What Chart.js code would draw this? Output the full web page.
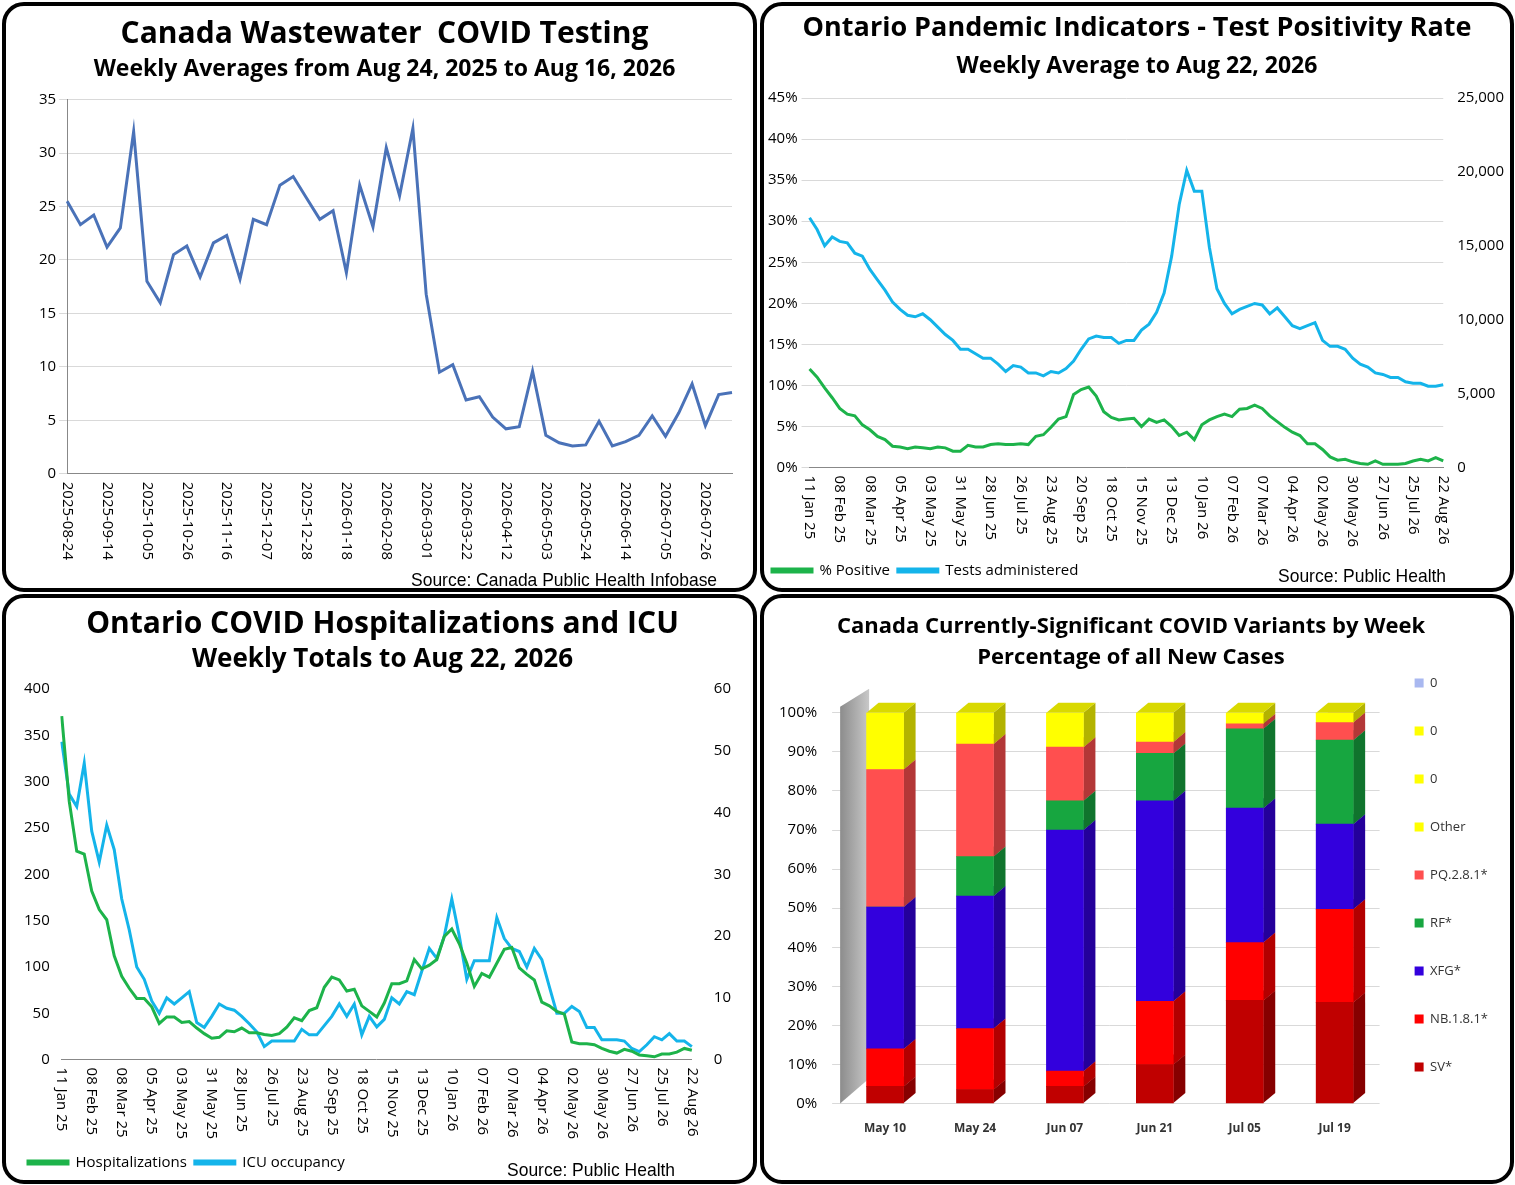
<!DOCTYPE html>
<html><head><meta charset="utf-8">
<script src="https://cdn.jsdelivr.net/npm/chart.js@4.4.1/dist/chart.umd.min.js"></script>
<style>
body{margin:0;width:1515px;height:1185px;background:#fff;position:relative;font-family:"Open Sans",sans-serif;overflow:hidden}
.p{position:absolute;border:4px solid #000;border-radius:22px;box-sizing:border-box;background:#fff;overflow:hidden}
.p canvas{position:absolute;left:0;top:0}
.src{position:absolute;font-family:"Liberation Sans",sans-serif;font-size:19px;color:#000;transform:scaleX(0.92);transform-origin:left top;white-space:nowrap}
</style></head><body>
<div class="p" style="left:2px;top:2px;width:755px;height:590px"><canvas id="c1"></canvas><div class="src" style="left:405px;top:563px">Source: Canada Public Health Infobase</div></div>
<div class="p" style="left:760px;top:2px;width:754px;height:590px"><canvas id="c2"></canvas><div class="src" style="left:514px;top:559px">Source: Public Health</div></div>
<div class="p" style="left:2px;top:594px;width:755px;height:590px"><canvas id="c3"></canvas><div class="src" style="left:501px;top:561px">Source: Public Health</div></div>
<div class="p" style="left:760px;top:594px;width:754px;height:590px"><canvas id="c4"></canvas></div>
<script>
// ---------- DATA ----------
const wwStart = '2025-08-24';
const wastewater = [25.5,23.3,24.2,21.2,23,32,18,16,20.5,21.3,18.4,21.6,22.3,18.2,23.8,23.3,27,27.8,25.8,23.8,24.6,18.8,27,23.1,30.5,26,32.3,16.8,9.5,10.2,6.9,7.2,5.3,4.2,4.4,9.6,3.6,2.9,2.6,2.7,4.9,2.6,3.0,3.6,5.4,3.5,5.7,8.4,4.5,7.4,7.6];
const onStart = '2025-01-11';
const pctPositive = [12,11,9.7,8.5,7.2,6.5,6.3,5.2,4.6,3.8,3.4,2.6,2.5,2.3,2.5,2.4,2.3,2.5,2.4,2.0,2.0,2.7,2.5,2.5,2.8,2.9,2.8,2.8,2.9,2.8,3.8,4.0,4.9,5.9,6.2,8.9,9.5,9.8,8.7,6.8,6.1,5.8,5.9,6.0,5.0,5.9,5.5,5.8,5.0,3.9,4.3,3.4,5.2,5.8,6.2,6.5,6.2,7.1,7.2,7.6,7.2,6.3,5.6,4.9,4.3,3.9,2.9,2.9,2.2,1.3,0.9,1.0,0.7,0.5,0.4,0.8,0.4,0.4,0.4,0.5,0.8,1.0,0.8,1.2,0.8];
const testsAdmin = [16900,16100,15000,15600,15300,15200,14500,14300,13400,12700,12000,11200,10700,10300,10200,10400,10000,9500,9000,8600,8000,8000,7700,7400,7400,7000,6500,6900,6800,6400,6400,6200,6500,6400,6700,7200,8000,8700,8900,8800,8800,8400,8600,8600,9300,9700,10500,11800,14300,17800,20100,18700,18700,14900,12100,11100,10400,10700,10900,11100,11000,10400,10800,10200,9600,9400,9600,9800,8600,8200,8200,8000,7400,7000,6800,6400,6300,6100,6100,5800,5700,5700,5500,5500,5600];
const hosp = [371,279,225,222,182,162,151,112,90,77,66,66,57,39,46,46,40,41,34,28,23,24,31,30,34,29,29,27,26,28,35,45,42,53,56,78,89,86,74,76,58,52,46,61,82,82,85,108,98,102,108,133,141,125,104,79,93,89,104,119,121,99,92,86,62,58,52,49,19,17,17,16,12,9,7,11,9,5,4,3,6,6,8,12,10];
const icu = [51.5,43,41,48,37,32,38,34,26,21,15,13,9.5,7.5,10,9,10,11,6,5.2,7,9,8.3,8,7,5.8,4.5,2.1,3,3,3,3,4.9,4,4,5.5,7,9,7,9,4,7,5.3,6.5,10,9,11,10.5,14.3,18,16.4,20,26,20,13,16,16,16,23,19.6,18,17.5,15,18,16.2,11.8,7.5,7.5,8.6,7.8,5.2,5.2,3.2,3.2,3.2,3,1.8,1.3,2.4,3.7,3.2,4.2,3,3,2.1];
const variantWeeks = ['May 10','May 24','Jun 07','Jun 21','Jul 05','Jul 19'];
const SV   = [4.4,3.6,4.4,10,26.4,25.9];
const NB   = [9.6,15.6,3.9,16.2,14.8,23.8];
const XFG  = [36.3,33.9,61.7,51.3,34.4,21.8];
const RF   = [0,10.1,7.5,12.1,20.3,21.5];
const PQ   = [35.2,28.8,13.7,2.9,1.3,4.5];
const Other= [14.5,8,8.8,7.5,2.8,2.5];
const zeros= [0,0,0,0,0,0];

function weekly(start,n,fmt){const out=[];const d=new Date(start+'T12:00:00Z');const M=['Jan','Feb','Mar','Apr','May','Jun','Jul','Aug','Sep','Oct','Nov','Dec'];
 for(let i=0;i<n;i++){const t=new Date(d.getTime()+i*7*864e5);const dd=String(t.getUTCDate()).padStart(2,'0');
  out.push(fmt==='iso'?t.getUTCFullYear()+'-'+String(t.getUTCMonth()+1).padStart(2,'0')+'-'+dd:dd+' '+M[t.getUTCMonth()]+' '+String(t.getUTCFullYear()).slice(2));}return out;}
const wwLabels = weekly(wwStart,wastewater.length,'iso');
const onLabels = weekly(onStart,pctPositive.length,'dmy');

Chart.defaults.font.family='"Open Sans",sans-serif';
Chart.defaults.color='#000';
Chart.defaults.animation=false;

const cwLabels={id:'cw',afterDraw(ch){const s=ch.scales.x;const c=ch.ctx;c.save();c.fillStyle='#000';c.font=(ch.options.cwFont||15)+'px "Open Sans",sans-serif';c.textBaseline='middle';c.textAlign='left';
 s.ticks.forEach((t,i)=>{if(!t.label)return;const x=s.getPixelForTick(i);c.save();c.translate(x,s.top+8);c.rotate(Math.PI/2);c.fillText(t.label,0,0);c.restore();});c.restore();}};

function sz(id){const e=document.getElementById(id);const p=e.parentElement;e.width=p.clientWidth;e.height=p.clientHeight;e.style.width=p.clientWidth+'px';e.style.height=p.clientHeight+'px';}
['c1','c2','c3','c4'].forEach(sz);
const tf=(s,w)=>({size:s,weight:w||'bold',family:'"Open Sans",sans-serif'});

new Chart('c1',{type:'line',data:{labels:wwLabels,datasets:[{data:wastewater,borderColor:'#4a72b8',borderWidth:3,pointRadius:0,tension:0}]},
 options:{responsive:false,cwFont:15,layout:{padding:{left:30,right:20,bottom:22}},plugins:{legend:{display:false},
  title:{display:true,text:'Canada Wastewater  COVID Testing',font:tf(30),padding:{top:10,bottom:4}},
  subtitle:{display:true,text:'Weekly Averages from Aug 24, 2025 to Aug 16, 2026',font:tf(23),padding:{bottom:16}}},
  scales:{x:{grid:{display:false},border:{color:'#888'},ticks:{color:'transparent',autoSkip:false,minRotation:90,maxRotation:90,font:{size:15},callback:(v,i)=>i%3===0?wwLabels[i]:''}},
   y:{min:0,max:35,ticks:{stepSize:5,font:{size:15}},grid:{color:'#d9d9d9'},border:{color:'#888'}}}},plugins:[cwLabels]});

new Chart('c2',{type:'line',data:{labels:onLabels,datasets:[
 {label:'% Positive',data:pctPositive,borderColor:'#1db34a',backgroundColor:'#1db34a',borderWidth:3,pointRadius:0,yAxisID:'y'},
 {label:'Tests administered',data:testsAdmin,borderColor:'#14b4ea',backgroundColor:'#14b4ea',borderWidth:3,pointRadius:0,yAxisID:'y1'}]},
 options:{responsive:false,cwFont:15,layout:{padding:{left:0,right:0,bottom:0}},plugins:{
  title:{display:true,text:'Ontario Pandemic Indicators - Test Positivity Rate',font:tf(27),padding:{top:6,bottom:8}},
  subtitle:{display:true,text:'Weekly Average to Aug 22, 2026',font:tf(23),padding:{bottom:18}},
  legend:{position:'bottom',align:'start',labels:{boxWidth:40,boxHeight:3,font:{size:15},padding:8}}},
  scales:{x:{grid:{display:false},border:{color:'#888'},ticks:{color:'transparent',autoSkip:false,minRotation:90,maxRotation:90,font:{size:15},padding:4,callback:(v,i)=>i%4===0?onLabels[i]:''}},
   y:{min:0,max:45,ticks:{stepSize:5,font:{size:15},padding:4,callback:v=>v+'%'},grid:{color:'#d9d9d9'},border:{display:false}},
   y1:{position:'right',min:0,max:25000,ticks:{stepSize:5000,font:{size:15},padding:6,callback:v=>v.toLocaleString('en-US')},grid:{display:false},border:{display:false}}}},plugins:[cwLabels]});

new Chart('c3',{type:'line',data:{labels:onLabels,datasets:[
 {label:'Hospitalizations',data:hosp,borderColor:'#1db34a',backgroundColor:'#1db34a',borderWidth:3,pointRadius:0,yAxisID:'y'},
 {label:'ICU occupancy',data:icu,borderColor:'#14b4ea',backgroundColor:'#14b4ea',borderWidth:3,pointRadius:0,yAxisID:'y1'}]},
 options:{responsive:false,cwFont:15,layout:{padding:{left:14,right:8,bottom:0}},plugins:{
  title:{display:true,text:'Ontario COVID Hospitalizations and ICU',font:tf(30),padding:{top:8,bottom:2}},
  subtitle:{display:true,text:'Weekly Totals to Aug 22, 2026',font:tf(26),padding:{bottom:14}},
  legend:{position:'bottom',align:'start',labels:{boxWidth:40,boxHeight:3,font:{size:15},padding:8}}},
  scales:{x:{grid:{display:false},border:{color:'#888'},ticks:{color:'transparent',autoSkip:false,minRotation:90,maxRotation:90,font:{size:15},padding:4,callback:(v,i)=>i%4===0?onLabels[i]:''}},
   y:{min:0,max:400,ticks:{stepSize:50,font:{size:15},padding:4},grid:{display:false},border:{display:false}},
   y1:{position:'right',min:0,max:60,ticks:{stepSize:10,font:{size:15},padding:14},grid:{display:false},border:{display:false}}}},plugins:[cwLabels]});

function shade(hex,f){const n=parseInt(hex.slice(1),16);let r=n>>16,g=(n>>8)&255,b=n&255;return `rgb(${Math.round(r*f)},${Math.round(g*f)},${Math.round(b*f)})`;}
const threeD={id:'threeD',beforeDatasetsDraw(ch){const c=ch.ctx,a=ch.chartArea,dx=12,dy=10;
 c.save();const wl=29;const g=c.createLinearGradient(a.left,0,a.left+wl,0);g.addColorStop(0,'#8c8c8c');g.addColorStop(1,'#c8c8c8');
 c.fillStyle=g;c.beginPath();c.moveTo(a.left,a.bottom);c.lineTo(a.left,a.top-6);c.lineTo(a.left+wl,a.top-24);c.lineTo(a.left+wl,a.bottom-25);c.closePath();c.fill();
 ch.data.datasets.forEach((ds,di)=>{const m=ch.getDatasetMeta(di);m.data.forEach((b,i)=>{if(!ds.data[i])return;const h=b.width/2,col=ds.backgroundColor;
  c.fillStyle=shade(col,0.7);c.beginPath();c.moveTo(b.x+h,b.y);c.lineTo(b.x+h+dx,b.y-dy);c.lineTo(b.x+h+dx,b.base-dy);c.lineTo(b.x+h,b.base);c.closePath();c.fill();
  c.fillStyle=shade(col,0.85);c.beginPath();c.moveTo(b.x-h,b.y);c.lineTo(b.x-h+dx,b.y-dy);c.lineTo(b.x+h+dx,b.y-dy);c.lineTo(b.x+h,b.y);c.closePath();c.fill();});});
 c.restore();}};
const vd=(l,d,c)=>({label:l,data:d,backgroundColor:c,borderWidth:0,barThickness:37});
new Chart('c4',{type:'bar',data:{labels:variantWeeks,datasets:[vd('SV*',SV,'#c00000'),vd('NB.1.8.1*',NB,'#ff0000'),vd('XFG*',XFG,'#3300dd'),vd('RF*',RF,'#17a640'),vd('PQ.2.8.1*',PQ,'#ff4f4f'),vd('Other',Other,'#ffff00'),vd('0',zeros,'#ffff00'),vd('0',zeros,'#ffff00'),vd('0',zeros,'#a9b8f0')]},
 options:{responsive:false,layout:{padding:{left:0,right:12,bottom:34,top:6}},plugins:{
  title:{display:true,text:'Canada Currently-Significant COVID Variants by Week',font:tf(22),padding:{top:10,bottom:4}},
  subtitle:{display:true,text:'Percentage of all New Cases',font:tf(22),padding:{bottom:42}},
  legend:{position:'right',reverse:true,labels:{boxWidth:9,boxHeight:9,font:{size:13},padding:35,color:'#333'}}},
  scales:{x:{stacked:true,grid:{display:false},border:{display:false},ticks:{font:{size:12,weight:'bold'},color:'#333',padding:10}},
   y:{stacked:true,min:0,max:100,ticks:{stepSize:10,font:{size:15},padding:15,callback:v=>v+'%'},grid:{color:'#d9d9d9'},border:{display:false}}}},plugins:[threeD]});
</script></body></html>
